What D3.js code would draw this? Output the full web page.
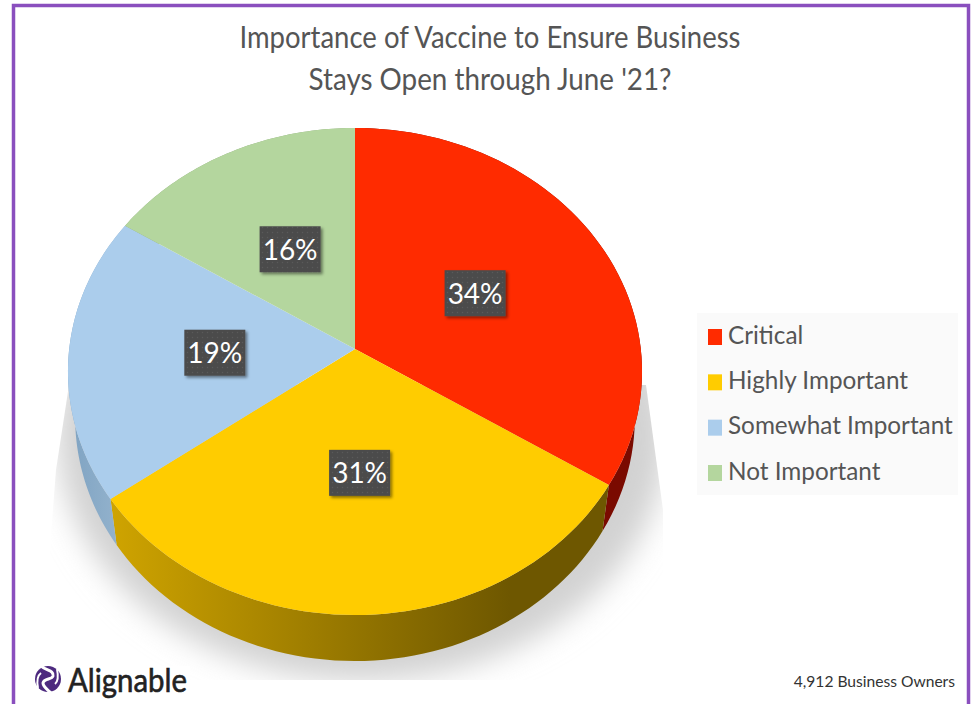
<!DOCTYPE html>
<html><head><meta charset="utf-8">
<script src="https://cdn.jsdelivr.net/npm/d3@7"></script>
<style>html,body{margin:0;padding:0;background:#fff}svg{display:block}text{font-family:Lato,sans-serif}</style>
</head><body><svg id="c" width="978" height="704"></svg>
<script>
const categories = ["Critical","Highly Important","Somewhat Important","Not Important"];
const values = [34,31,19,16];
const faceColors = ["#ff2b00","#ffcc00","#abcdec","#b4d69e"];
const titleLines = ["Importance of Vaccine to Ensure Business","Stays Open through June '21?"];
const footer = "4,912 Business Owners";
const brand = "Alignable";

const svg = d3.select("#c");
const defs = svg.append("defs");

// projective view of the tilted disc
const cx=355, cy=349, A=285.8, B=209.2, K=0.0924, depth=46, shrink=0.975;
const project=(ang,r=1)=>{const x=r*Math.sin(ang), v=-r*Math.cos(ang), w=1-K*v;
  return [cx+A*x/w,(B*v+cy)/w];};
const lower=p=>[cx+(p[0]-cx)*shrink,p[1]+depth];
const line=d3.line();
const rim=(a0,a1)=>d3.range(0,61).map(i=>project(a0+(a1-a0)*i/60));

const arcs=d3.pie().sort(null).value(d=>d)(values);

// shadow
defs.append("filter").attr("id","blur").attr("x","-20%").attr("y","-20%").attr("width","140%").attr("height","140%")
  .append("feGaussianBlur").attr("stdDeviation",15);
defs.append("clipPath").attr("id","shClip").append("path").attr("d","M69,385L56,470L40,680H663V510L646,385Z");
svg.append("g").attr("clip-path","url(#shClip)").append("ellipse")
  .attr("cx",362).attr("cy",436).attr("rx",305).attr("ry",245).attr("fill","#d2d2d2").attr("filter","url(#blur)");
svg.append("rect").attr("x",20).attr("y",666).attr("width",170).attr("height",20).attr("fill","#fff");

// side gradients
const sideStops=[["#7a0a00","#7a0a00"],["#cfa400","#6e5700"],["#7fa3c2","#94b3cd"],["#8fa97e","#8fa97e"]];
sideStops.forEach((s,i)=>{
  const g=defs.append("linearGradient").attr("id","side"+i).attr("gradientUnits","userSpaceOnUse")
    .attr("x1",i==1?110:70).attr("x2",i==1?510:120).attr("y1",0).attr("y2",0);
  g.append("stop").attr("offset",0).attr("stop-color",s[0]);
  g.append("stop").attr("offset",1).attr("stop-color",s[1]);
});

const sides=svg.append("g"), faces=svg.append("g");
arcs.forEach((d,i)=>{
  const r=rim(d.startAngle,d.endAngle);
  sides.append("path").attr("d",line(r.concat(r.slice().reverse().map(lower)))+"Z").attr("fill",`url(#side${i})`);
});
arcs.forEach((d,i)=>{
  faces.append("path").attr("d",line([[cx,project(0,0)[1]]].concat(rim(d.startAngle,d.endAngle)))+"Z")
    .attr("fill",faceColors[i]);
});

// labels
const pat=defs.append("pattern").attr("id","dots").attr("width",5).attr("height",5).attr("patternUnits","userSpaceOnUse");
pat.append("rect").attr("width",5).attr("height",5).attr("fill","#4b4b4b");
pat.append("circle").attr("cx",2.5).attr("cy",2.5).attr("r",.8).attr("fill","#5a5a5a");
const ds=defs.append("filter").attr("id","ds").attr("x","-20%").attr("y","-20%").attr("width","150%").attr("height","150%");
ds.append("feDropShadow").attr("dx",2).attr("dy",2).attr("stdDeviation",1.6).attr("flood-color","#000").attr("flood-opacity",.45);
const lab=svg.append("g");
arcs.forEach(d=>{
  const [x,y]=project((d.startAngle+d.endAngle)/2,.49);
  lab.append("rect").attr("x",x-30.5).attr("y",y-23).attr("width",61).attr("height",46).attr("fill","url(#dots)").attr("filter","url(#ds)");
  lab.append("text").attr("x",x).attr("y",y+10.5).attr("text-anchor","middle").attr("fill","#fff").attr("font-size",28).text(d.data+"%");
});

// title
const titleWidths=[501,363];
const titleEls=svg.append("g").attr("fill","#555").attr("font-size",30).attr("text-anchor","middle");
titleLines.forEach((t,i)=>titleEls.append("text").attr("x",490).attr("y",48+i*42)
  .attr("textLength",titleWidths[i]).attr("lengthAdjust","spacingAndGlyphs").text(t));

// legend
const lg=svg.append("g");
lg.append("rect").attr("x",697).attr("y",313).attr("width",261).attr("height",182).attr("fill","#fafafa");
const ly=d3.scalePoint().domain(categories).range([337,473]);
categories.forEach((c,i)=>{
  lg.append("rect").attr("x",708).attr("y",ly(c)-8).attr("width",14).attr("height",16).attr("fill",faceColors[i]);
  lg.append("text").attr("x",728).attr("y",ly(c)+6.5).attr("font-size",24.3).attr("fill","#555").text(c);
});

// frame
svg.append("path").attr("d","M13.5,704V5.5H968.5V704").attr("fill","none").attr("stroke","#8a4fbe").attr("stroke-width",3.5);

// footer & brand
svg.append("text").attr("x",955).attr("y",687).attr("text-anchor","end").attr("font-size",15.6).attr("fill","#333").text(footer);
const icon=svg.append("g").attr("transform","translate(48,679)");
icon.append("circle").attr("r",13).attr("fill","#4d2a7f");
icon.append("path").attr("d","M-7,-13C-2,-8 6,-9 5,-3C4,1 -4,-1 -5,4C-5,8 0,11 3,14").attr("fill","none").attr("stroke","#fff").attr("stroke-width",3);
icon.append("path").attr("d","M9,-10C10,-5 11,2 7,5M-10,9C-11,4 -11,-3 -7,-6").attr("fill","none").attr("stroke","#fff").attr("stroke-width",2);
svg.append("text").attr("x",68).attr("y",692).attr("font-size",32).attr("fill","#222").attr("stroke","#222").attr("stroke-width",.6)
  .attr("textLength",119).attr("lengthAdjust","spacingAndGlyphs").text(brand);
</script></body></html>
